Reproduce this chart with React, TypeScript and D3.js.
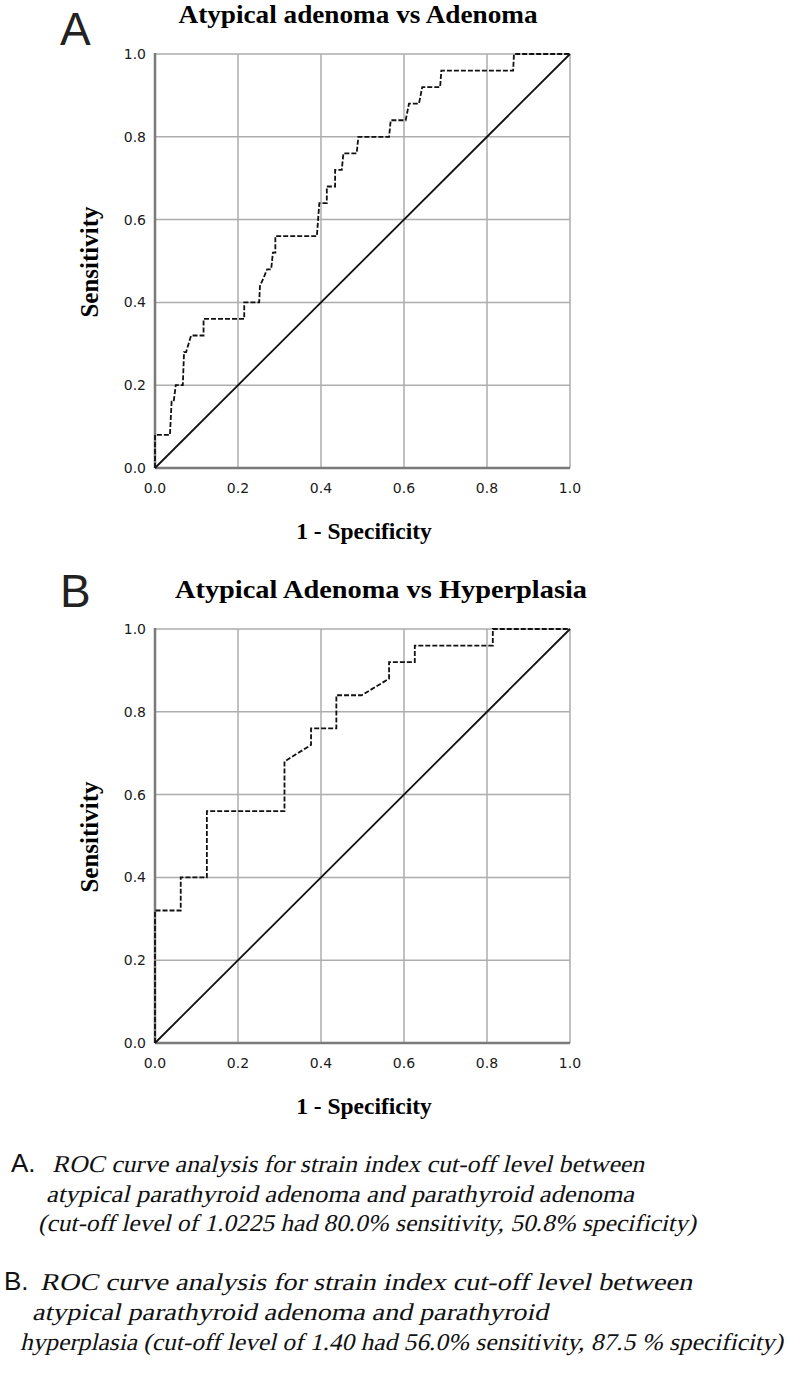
import React, { useEffect, useRef } from 'react';
import * as d3 from 'd3';

// axis ticks shared by both panels
const ticks = [0, 0.2, 0.4, 0.6, 0.8, 1.0];
const tickLabels = ['0.0', '0.2', '0.4', '0.6', '0.8', '1.0'];

// panel A: Atypical adenoma vs Adenoma (1 - specificity, sensitivity)
const fprA = [0, 0, 0.036, 0.04, 0.045, 0.05, 0.067, 0.07, 0.075, 0.087, 0.117, 0.117, 0.215, 0.215, 0.251, 0.253, 0.262, 0.27, 0.28, 0.284, 0.29, 0.29, 0.39, 0.396, 0.414, 0.414, 0.434, 0.434, 0.45, 0.454, 0.486, 0.49, 0.564, 0.568, 0.604, 0.612, 0.636, 0.644, 0.687, 0.69, 0.863, 0.865, 1.0];
const tprA = [0, 0.08, 0.08, 0.16, 0.16, 0.2, 0.2, 0.28, 0.28, 0.32, 0.32, 0.36, 0.36, 0.4, 0.4, 0.44, 0.46, 0.48, 0.48, 0.52, 0.52, 0.56, 0.56, 0.64, 0.64, 0.68, 0.68, 0.72, 0.72, 0.76, 0.76, 0.8, 0.8, 0.84, 0.84, 0.88, 0.88, 0.92, 0.92, 0.96, 0.96, 1.0, 1.0];

// panel B: Atypical Adenoma vs Hyperplasia
const fprB = [0, 0, 0.062, 0.062, 0.125, 0.125, 0.312, 0.312, 0.376, 0.376, 0.437, 0.437, 0.498, 0.564, 0.564, 0.626, 0.626, 0.814, 0.814, 1.0];
const tprB = [0, 0.32, 0.32, 0.4, 0.4, 0.56, 0.56, 0.68, 0.72, 0.76, 0.76, 0.84, 0.84, 0.88, 0.92, 0.92, 0.96, 0.96, 1.0, 1.0];

const titles = ['Atypical adenoma vs Adenoma', 'Atypical Adenoma vs Hyperplasia'];
const letters = ['A', 'B'];

const captionA = [
  'ROC curve analysis for strain index cut-off level between',
  'atypical parathyroid adenoma and parathyroid adenoma',
  '(cut-off level of 1.0225 had 80.0% sensitivity, 50.8% specificity)',
];
const captionB = [
  'ROC curve analysis for strain index cut-off level between',
  'atypical parathyroid adenoma and parathyroid',
  'hyperplasia (cut-off level of 1.40 had 56.0% sensitivity, 87.5 % specificity)',
];

const W = 793;
const H = 1375;
const serif = '"Liberation Serif", "Times New Roman", serif';
const sans = '"Liberation Sans", Arial, sans-serif';
const tickFont = '"DejaVu Sans", sans-serif';

function drawPanel(svg: any, top: number, idx: number, fpr: number[], tpr: number[],
  letterBase: number, titleX: number, titleW: number) {
  const x = d3.scaleLinear().domain([0, 1]).range([155, 570]);
  const y = d3.scaleLinear().domain([0, 1]).range([top + 414, top]);
  const g = svg.append('g');

  // grid
  g.selectAll('.vg').data(ticks.slice(1)).enter().append('line')
    .attr('x1', (d: number) => x(d)).attr('x2', (d: number) => x(d))
    .attr('y1', y(0)).attr('y2', y(1))
    .attr('stroke', '#adadad').attr('stroke-width', 1.5);
  g.selectAll('.hg').data(ticks.slice(1)).enter().append('line')
    .attr('x1', x(0)).attr('x2', x(1))
    .attr('y1', (d: number) => y(d)).attr('y2', (d: number) => y(d))
    .attr('stroke', '#adadad').attr('stroke-width', 1.5);

  // axes
  g.append('line').attr('x1', x(0)).attr('x2', x(0)).attr('y1', y(0)).attr('y2', y(1) - 1)
    .attr('stroke', '#7a7a7a').attr('stroke-width', 2.5);
  g.append('line').attr('x1', x(0)).attr('x2', x(1)).attr('y1', y(0)).attr('y2', y(0))
    .attr('stroke', '#7a7a7a').attr('stroke-width', 2.5);

  // tick labels
  g.selectAll('.yl').data(ticks).enter().append('text')
    .attr('x', 146).attr('y', (d: number) => y(d) + 5)
    .attr('text-anchor', 'end')
    .style('font-family', tickFont).style('font-size', '14px').style('fill', '#1a1a1a')
    .text((d: number, i: number) => tickLabels[i]);
  g.selectAll('.xl').data(ticks).enter().append('text')
    .attr('x', (d: number) => x(d)).attr('y', y(0) + 25)
    .attr('text-anchor', 'middle')
    .style('font-family', tickFont).style('font-size', '14px').style('fill', '#1a1a1a')
    .text((d: number, i: number) => tickLabels[i]);

  // reference diagonal
  g.append('line').attr('x1', x(0)).attr('y1', y(0)).attr('x2', x(1)).attr('y2', y(1))
    .attr('stroke', '#111').attr('stroke-width', 1.8);

  // ROC curve
  const line = d3.line<number>().x((d) => x(d)).y((d, i) => y(tpr[i]));
  g.append('path').attr('d', line(fpr))
    .attr('fill', 'none').attr('stroke', '#111').attr('stroke-width', 1.8)
    .attr('stroke-dasharray', '5,2');

  // titles
  g.append('text').attr('x', titleX).attr('y', top - 31).attr('text-anchor', 'middle')
    .attr('textLength', titleW).attr('lengthAdjust', 'spacingAndGlyphs')
    .style('font-family', serif).style('font-weight', 'bold').style('font-size', '26px')
    .text(titles[idx]);
  g.append('text').attr('x', 60).attr('y', letterBase)
    .style('font-family', sans).style('font-size', '46px').style('fill', '#222')
    .text(letters[idx]);
  g.append('text')
    .attr('transform', `translate(98, ${top + 208}) rotate(-90)`)
    .attr('text-anchor', 'middle')
    .style('font-family', serif).style('font-weight', 'bold').style('font-size', '25px')
    .text('Sensitivity');
  g.append('text').attr('x', 364).attr('y', top + 485).attr('text-anchor', 'middle')
    .style('font-family', serif).style('font-weight', 'bold').style('font-size', '23.5px')
    .text('1 - Specificity');
}

// captions: serif slanted by hand so the face stays Times-like
function drawCaption(svg: any, label: string, lines: string[], lx: number, xs: number[], ys: number[], ws: number[]) {
  svg.append('text').attr('x', lx).attr('y', ys[0])
    .style('font-family', sans).style('font-size', '26px').style('fill', '#111')
    .text(label);
  lines.forEach((t, i) => {
    svg.append('text')
      .attr('transform', `translate(${xs[i]}, ${ys[i]}) skewX(-13)`)
      .attr('textLength', ws[i]).attr('lengthAdjust', 'spacingAndGlyphs')
      .style('font-family', serif).style('font-size', '24px').style('fill', '#111')
      .text(t);
  });
}

export default function App() {
  const ref = useRef<SVGSVGElement>(null);

  useEffect(() => {
    const svg = d3.select(ref.current);
    svg.selectAll('*').remove();
    svg.append('rect').attr('width', W).attr('height', H).attr('fill', '#fff');

    drawPanel(svg, 54, 0, fprA, tprA, 45, 358, 359);
    drawPanel(svg, 629, 1, fprB, tprB, 607, 381, 412);

    drawCaption(svg, 'A.', captionA, 11, [52, 46, 38], [1172, 1202, 1231], [592, 588, 658]);
    drawCaption(svg, 'B.', captionB, 4, [40, 32, 20], [1290, 1320, 1350], [652, 516, 763]);
  }, []);

  return (
    <svg ref={ref} width={W} height={H} style={{ position: 'absolute', left: 0, top: 0 }} />
  );
}
